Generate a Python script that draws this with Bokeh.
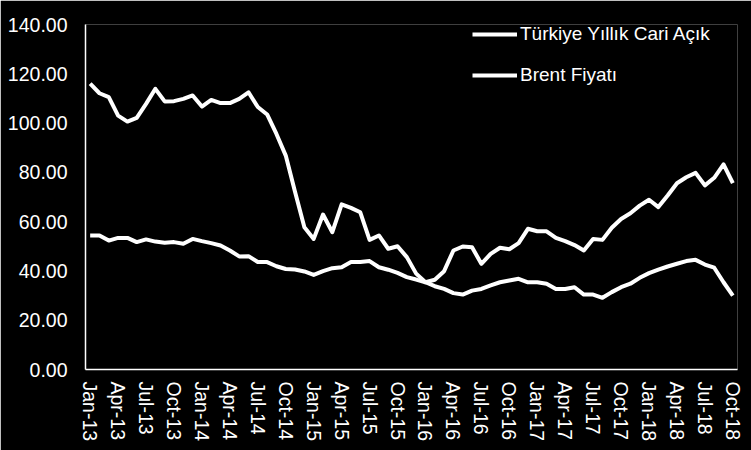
from bokeh.plotting import figure
from bokeh.models import FixedTicker, NumeralTickFormatter, Legend, LegendItem, ColumnDataSource, Range1d
from bokeh.embed import file_html
from bokeh.resources import INLINE

month_names = ["Jan", "Feb", "Mar", "Apr", "May", "Jun", "Jul", "Aug", "Sep", "Oct", "Nov", "Dec"]
years = ["13", "14", "15", "16", "17", "18"]
months = [f"{m}-{y}" for y in years for m in month_names][:70]  # Jan-13 .. Oct-18

cari_acik = [54.4, 54.4, 52.3, 53.4, 53.4, 51.7, 52.8, 51.9, 51.4, 51.7, 51.0, 53.0,
             52.1, 51.3, 50.3, 48.3, 45.9, 46.0, 43.6, 43.6, 41.9, 40.8, 40.6, 39.8,
             38.4, 39.9, 41.1, 41.5, 43.6, 43.6, 44.0, 41.5, 40.5, 39.2, 37.5, 36.5,
             35.4, 33.8, 32.7, 31.0, 30.4, 32.0, 32.7, 34.1, 35.4, 36.1, 36.8, 35.4,
             35.4, 34.8, 32.7, 32.7, 33.4, 30.4, 30.4, 29.1, 31.4, 33.4, 34.8, 37.2,
             39.1, 40.5, 41.8, 42.9, 44.0, 44.5, 42.6, 41.3, 35.4, 30.0]

brent = [116.0, 112.1, 110.5, 103.0, 100.6, 102.1, 107.8, 113.9, 108.8, 108.9, 109.8, 111.2,
         106.7, 109.4, 108.1, 108.1, 109.8, 112.5, 106.5, 103.5, 95.6, 86.8, 72.0, 57.7,
         53.0, 62.9, 55.7, 67.0, 65.6, 63.8, 52.6, 54.4, 49.0, 50.0, 45.6, 38.9,
         35.4, 36.4, 39.9, 48.3, 49.9, 49.6, 42.9, 46.9, 49.4, 48.8, 51.3, 57.1,
         56.1, 56.1, 53.4, 52.1, 50.5, 48.3, 53.0, 52.6, 57.5, 61.1, 63.4, 66.5,
         68.9, 65.9, 70.6, 75.6, 78.0, 79.8, 74.7, 77.8, 83.2, 75.6]

tick_labels = [m for i, m in enumerate(months) if i % 3 == 0]
y_ticks = [0, 20, 40, 60, 80, 100, 120, 140]
series_names = ["Türkiye Yıllık Cari Açık", "Brent Fiyatı"]

FONT = "Liberation Sans"

src = ColumnDataSource(data=dict(x=list(range(len(months))), ca=cari_acik, brent=brent))

p = figure(frame_width=652, frame_height=345, output_backend="svg", toolbar_location=None,
           x_range=Range1d(-0.5, len(months) - 0.5), y_range=Range1d(0, 140),
           min_border_left=85, min_border_right=14, min_border_top=24, min_border_bottom=81)

p.background_fill_color = "black"
p.border_fill_color = "black"
p.outline_line_color = None
p.xgrid.visible = False
p.ygrid.visible = False

r1 = p.line("x", "ca", source=src, line_color="white", line_width=4, line_join="round")
r2 = p.line("x", "brent", source=src, line_color="white", line_width=4, line_join="round")

tick_pos = [months.index(t) for t in tick_labels]
p.xaxis.ticker = FixedTicker(ticks=tick_pos)
p.xaxis.major_label_overrides = {pos: lab for pos, lab in zip(tick_pos, tick_labels)}
p.xaxis.major_label_orientation = "vertical"
p.yaxis.ticker = FixedTicker(ticks=y_ticks)
p.yaxis.formatter = NumeralTickFormatter(format="0.00")

for ax in (p.xaxis[0], p.yaxis[0]):
    ax.axis_line_color = "white"
    ax.axis_line_width = 1.5
    ax.major_tick_line_color = None
    ax.minor_tick_line_color = None
    ax.major_tick_out = 0
    ax.major_tick_in = 0
    ax.major_label_text_color = "white"
    ax.major_label_text_font = FONT
    ax.major_label_text_font_size = "19.5px"
p.yaxis.major_label_standoff = 18
p.xaxis.major_label_standoff = 12

legend = Legend(items=[LegendItem(label=series_names[0], renderers=[r1]),
                       LegendItem(label=series_names[1], renderers=[r2])],
                location=(387, 283), padding=0, margin=0, spacing=19,
                glyph_width=45, glyph_height=20, label_height=20, label_standoff=3,
                background_fill_alpha=0, border_line_alpha=0,
                label_text_color="white", label_text_font=FONT, label_text_font_size="19px")
p.add_layout(legend)

open("out.html", "w").write(file_html(p, INLINE))
